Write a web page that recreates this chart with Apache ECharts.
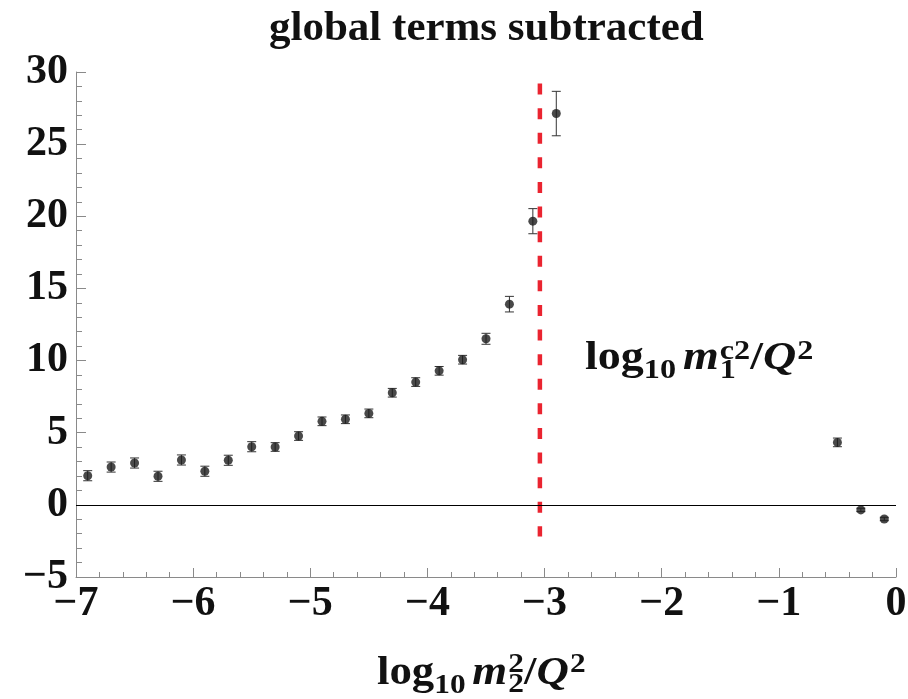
<!DOCTYPE html>
<html>
<head>
<meta charset="utf-8">
<script src="https://cdn.jsdelivr.net/npm/echarts@6/dist/echarts.min.js"></script>
<style>
  html, body { margin: 0; padding: 0; background: #fff; }
  #chart { width: 908px; height: 699px; }
</style>
</head>
<body>
<div id="chart"></div>
<script>
  // points
  const xValues = [-6.9, -6.7, -6.5, -6.3, -6.1, -5.9, -5.7, -5.5, -5.3, -5.1, -4.9, -4.7,
    -4.5, -4.3, -4.1, -3.9, -3.7, -3.5, -3.3, -3.1, -2.9, -0.5, -0.3, -0.1]
  const yValues = [2.02, 2.62, 2.90, 1.98, 3.11, 2.33, 3.09, 4.03, 4.01, 4.77, 5.79, 5.93,
    6.34, 7.77, 8.51, 9.29, 10.06, 11.51, 13.91, 19.66, 27.12, 4.33, -0.35, -0.98]
  const yErrors = [0.35, 0.35, 0.35, 0.35, 0.35, 0.35, 0.35, 0.35, 0.3, 0.3, 0.3, 0.3,
    0.3, 0.3, 0.3, 0.3, 0.3, 0.38, 0.54, 0.87, 1.54, 0.3, 0.12, 0.12]

  // vertical threshold line  (log10 m1^c2/Q^2)
  const thresholdX = -3.04
  const thresholdSpan = [-2.2, 29.2]

  const xRange = [-7, 0]
  const yRange = [-5, 30]
  const xStep = 1
  const yStep = 5

  const serif = '"Liberation Serif", "Times New Roman", serif'
  const ink = '#111'
  const axisGray = '#8a8a8a'

  const measureCtx = document.createElement('canvas').getContext('2d')

  // lay out a formula piece by piece (sub/superscripts as small shifted texts)
  function mathText(parts, left, baseline, stretch) {
    let x = 0
    let held = 0
    const children = []
    parts.forEach(p => {
      const style = p.italic ? 'italic' : 'normal'
      measureCtx.font = style + ' bold ' + p.size + 'px ' + serif
      const w = measureCtx.measureText(p.text).width
      children.push({
        type: 'text',
        x: x,
        y: baseline + (p.shift || 0) - 0.34 * p.size,
        style: {
          text: p.text,
          fontSize: p.size,
          fontFamily: serif,
          fontWeight: 'bold',
          fontStyle: style,
          fill: ink,
          align: 'left',
          verticalAlign: 'middle'
        }
      })
      if (p.stack) {
        held = Math.max(held, w)
      } else {
        x += Math.max(w, held) + (p.gap || 0)
        held = 0
      }
    })
    return { type: 'group', silent: true, x: left, y: 0, scaleX: stretch, children: children }
  }

  const minus = v => String(v).replace('-', '\u2212')

  const chart = echarts.init(document.getElementById('chart'))

  chart.setOption({
    animation: false,
    backgroundColor: '#fff',
    title: {
      text: 'global terms subtracted',
      left: 264,
      top: 2,
      textStyle: { fontFamily: serif, fontWeight: 'bold', fontSize: 43, color: ink }
    },
    grid: { left: 76, right: 12, top: 72, bottom: 122, containLabel: false, outerBoundsMode: 'none' },
    xAxis: {
      type: 'value',
      min: xRange[0],
      max: xRange[1],
      interval: xStep,
      axisLine: { onZero: false, lineStyle: { color: axisGray, width: 1 } },
      axisTick: { inside: true, length: 9, lineStyle: { color: axisGray } },
      minorTick: { show: true, splitNumber: 5, length: 5, lineStyle: { color: axisGray } },
      splitLine: { show: false },
      axisLabel: {
        margin: 6,
        fontFamily: serif, fontWeight: 'bold', fontSize: 42, color: ink,
        formatter: minus
      }
    },
    yAxis: {
      type: 'value',
      min: yRange[0],
      max: yRange[1],
      interval: yStep,
      axisLine: { show: true, onZero: false, lineStyle: { color: axisGray, width: 1 } },
      axisTick: { show: true, inside: true, length: 10, lineStyle: { color: axisGray } },
      minorTick: { show: true, splitNumber: 5, length: 6, lineStyle: { color: axisGray } },
      splitLine: { show: false },
      axisLabel: {
        margin: 8,
        fontFamily: serif, fontWeight: 'bold', fontSize: 42, color: ink,
        formatter: minus
      }
    },
    series: [
      {
        type: 'custom',
        name: 'errors',
        silent: true,
        data: xValues.map((x, i) => [x, yValues[i], yErrors[i]]),
        encode: { x: 0, y: 1 },
        renderItem(params, api) {
          const x = api.value(0)
          const y = api.value(1)
          const e = api.value(2)
          const top = api.coord([x, y + e])
          const bot = api.coord([x, y - e])
          const hw = 4.5
          const st = { stroke: '#333', lineWidth: 1 }
          return {
            type: 'group',
            children: [
              { type: 'line', shape: { x1: top[0], y1: top[1], x2: bot[0], y2: bot[1] }, style: st },
              { type: 'line', shape: { x1: top[0] - hw, y1: top[1], x2: top[0] + hw, y2: top[1] }, style: st },
              { type: 'line', shape: { x1: bot[0] - hw, y1: bot[1], x2: bot[0] + hw, y2: bot[1] }, style: st }
            ]
          }
        },
        z: 3
      },
      {
        type: 'scatter',
        name: 'points',
        symbol: 'circle',
        symbolSize: 9,
        itemStyle: { color: '#1c1c1c' },
        data: xValues.map((x, i) => [x, yValues[i]]),
        markLine: {
          silent: true,
          symbol: ['none', 'none'],
          label: { show: false },
          lineStyle: { color: '#000', width: 1, type: 'solid' },
          data: [{ yAxis: 0 }]
        },
        z: 4
      },
      {
        type: 'line',
        name: 'threshold',
        showSymbol: false,
        silent: true,
        lineStyle: { color: '#ea2430', width: 4.5, type: [11, 13.6] },
        data: [[thresholdX, thresholdSpan[1]], [thresholdX, thresholdSpan[0]]],
        z: 2
      }
    ],
    graphic: [
      mathText([
        { text: 'log', size: 40 },
        { text: '10', size: 28, shift: 8, gap: 6 },
        { text: 'm', size: 40, italic: true, gap: 1 },
        { text: '1', size: 28, shift: 8, stack: true },
        { text: 'c2', size: 28, shift: -11 },
        { text: '/', size: 40 },
        { text: 'Q', size: 40, italic: true, gap: 1 },
        { text: '2', size: 28, shift: -11 }
      ], 585, 372, 1.15),
      mathText([
        { text: 'log', size: 40 },
        { text: '10', size: 28, shift: 8, gap: 6 },
        { text: 'm', size: 40, italic: true, gap: 1 },
        { text: '2', size: 28, shift: 7, stack: true },
        { text: '2', size: 28, shift: -13 },
        { text: '/', size: 40 },
        { text: 'Q', size: 40, italic: true, gap: 1 },
        { text: '2', size: 28, shift: -13 }
      ], 377, 687, 1.12)
    ]
  })
</script>
</body>
</html>
